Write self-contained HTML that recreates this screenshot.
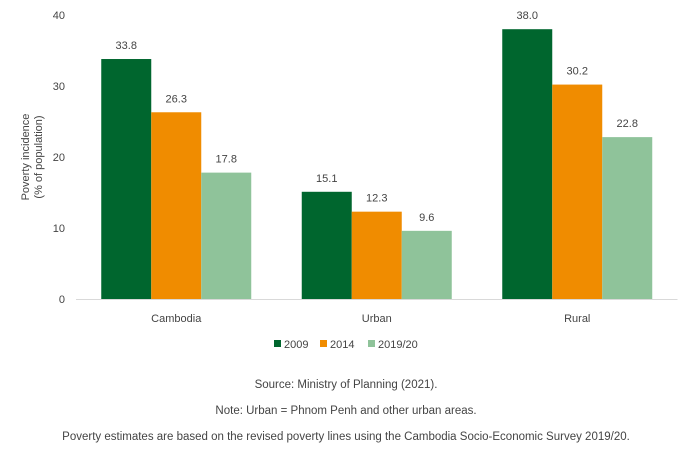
<!DOCTYPE html>
<html><head><meta charset="utf-8"><style>
body{margin:0;background:#fff;width:692px;height:460px;overflow:hidden;font-family:"Liberation Sans",sans-serif;}
svg text{font-family:"Liberation Sans",sans-serif;fill:#444;}
</style></head><body>
<svg id="chart" width="692" height="460">
<g id="plot"></g>
<text x="346" y="388" font-size="11.5" text-anchor="middle">Source: Ministry of Planning (2021).</text>
<text x="346" y="414" font-size="11.5" text-anchor="middle">Note: Urban = Phnom Penh and other urban areas.</text>
<text x="346" y="440" font-size="11.5" text-anchor="middle">Poverty estimates are based on the revised poverty lines using the Cambodia Socio-Economic Survey 2019/20.</text>
</svg>
<script>
const categories=["Cambodia","Urban","Rural"];
const seriesNames=["2009","2014","2019/20"];
const s2009=[33.8,15.1,38.0];
const s2014=[26.3,12.3,30.2];
const s2019=[17.8,9.6,22.8];
const yTicks=[0,10,20,30,40];
const colors=["#00662e","#f08c00","#8fc39a"];
const NS="http://www.w3.org/2000/svg";
const g=document.getElementById('plot');
const x0=76,bandW=200.5,barW=50,yZero=299,yTop=15,yMax=40;
const y=v=>yZero-(v/yMax)*(yZero-yTop);
const xBand=i=>x0+i*bandW;
function el(t,a,txt){const e=document.createElementNS(NS,t);for(const k in a)e.setAttribute(k,a[k]);if(txt!==undefined)e.textContent=txt;g.appendChild(e);return e;}
yTicks.forEach(t=>{const e=el('text',{x:65,y:y(t)+4,'font-size':11,'text-anchor':'end'},t);

});
const yt=el('text',{transform:'translate(35,157) rotate(-90)','font-size':11,'text-anchor':'middle'});


const t1=document.createElementNS(NS,'tspan');t1.setAttribute('x',0);t1.setAttribute('dy',-6);t1.textContent='Poverty incidence';yt.appendChild(t1);
const t2=document.createElementNS(NS,'tspan');t2.setAttribute('x',0);t2.setAttribute('dy',13);t2.textContent='(% of population)';yt.appendChild(t2);
const series=[s2009,s2014,s2019];
categories.forEach((c,i)=>{
 const start=xBand(i)+(bandW-3*barW)/2;
 series.forEach((s,j)=>{
  const bx=start+j*barW;
  const r=el('rect',{x:bx,y:y(s[i]),width:barW,height:yZero-y(s[i]),fill:colors[j]});
  
  
  const l=el('text',{x:bx+barW/2,y:y(s[i])-10,'font-size':11,'text-anchor':'middle'},s[i].toFixed(1));
  
  
 });
 const cl=el('text',{x:xBand(i)+bandW/2,y:322,'font-size':11,'text-anchor':'middle'},c);
 
 
});
const ax=el('line',{x1:x0,x2:x0+3*bandW,y1:yZero+0.5,y2:yZero+0.5,stroke:'#d9d9d9'});


const lx=[274,320,368];
seriesNames.forEach((n,j)=>{
 const r=el('rect',{x:lx[j],y:340,width:7,height:7,fill:colors[j]});
 
 
 const t=el('text',{x:lx[j]+10,y:348,'font-size':11},n);
 
 
});
</script>
</body></html>
